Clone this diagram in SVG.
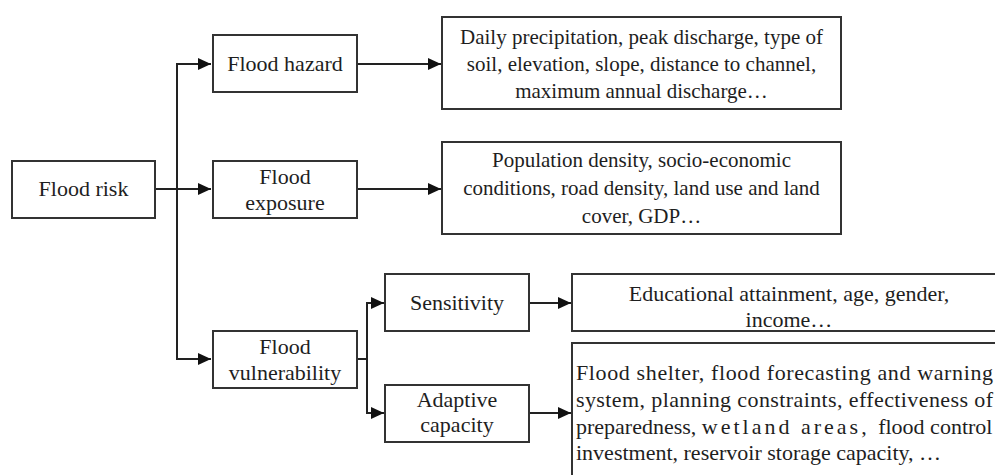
<svg xmlns="http://www.w3.org/2000/svg" width="995" height="475" viewBox="0 0 995 475">
<style>
.box{fill:#fff;stroke:#333;stroke-width:2}
text{font-family:'Liberation Serif','Times New Roman',Times,'DejaVu Serif',serif;fill:#1e1e1e}
.t{font-size:22px;text-anchor:middle}
.d{font-size:21px;text-anchor:middle}
.l{font-size:22px}
.c{fill:none;stroke:#222;stroke-width:2}
</style>
<defs>
<marker id="ah" markerUnits="userSpaceOnUse" markerWidth="14" markerHeight="14" viewBox="0 0 14 14" refX="13" refY="7" orient="auto">
<path d="M0,1 L13,7 L0,13 Z" fill="#111"/>
</marker>
</defs>
<rect width="995" height="475" fill="#fff"/>
<g id="connectors">
<path class="c" d="M155,189 H211" marker-end="url(#ah)"/>
<path class="c" d="M211,64 H177 V359 H211" marker-end="url(#ah)"/>
<path class="c" d="M177,64 H211" marker-end="url(#ah)"/>
<path class="c" d="M357,64 H441" marker-end="url(#ah)"/>
<path class="c" d="M357,189 H441" marker-end="url(#ah)"/>
<path class="c" d="M357,359 H367"/>
<path class="c" d="M384,303 H367 V413 H384" marker-end="url(#ah)"/>
<path class="c" d="M367,303 H384" marker-end="url(#ah)"/>
<path class="c" d="M529,303 H571" marker-end="url(#ah)"/>
<path class="c" d="M529,413 H571" marker-end="url(#ah)"/>
</g>
<g id="flood-risk" font-family="Liberation Serif, serif">
<rect class="box" x="12" y="161" width="143" height="57"/>
<text class="t" x="83.5" y="196">Flood risk</text>
</g>
<g id="flood-hazard">
<rect class="box" x="213" y="35" width="144" height="57"/>
<text class="t" x="285" y="71">Flood hazard</text>
</g>
<g id="flood-exposure">
<rect class="box" x="213" y="161" width="144" height="57"/>
<text class="t" x="285" y="184">Flood</text>
<text class="t" x="285" y="210">exposure</text>
</g>
<g id="flood-vulnerability">
<rect class="box" x="213" y="331" width="144" height="57"/>
<text class="t" x="285" y="354">Flood</text>
<text class="t" x="285" y="380">vulnerability</text>
</g>
<g id="hazard-details">
<rect class="box" x="442" y="17" width="399" height="92"/>
<text class="d" x="641.5" y="44">Daily precipitation, peak discharge,  type of</text>
<text class="d" x="641.5" y="71">soil, elevation, slope, distance to channel,</text>
<text class="d" x="641.5" y="98">maximum annual discharge…</text>
</g>
<g id="exposure-details">
<rect class="box" x="442" y="142" width="399" height="92"/>
<text class="d" x="641.5" y="167">Population density, socio-economic</text>
<text class="d" x="641.5" y="195">conditions, road density, land use and land</text>
<text class="d" x="641.5" y="223">cover, GDP…</text>
</g>
<g id="sensitivity">
<rect class="box" x="385" y="274" width="144" height="57"/>
<text class="t" x="457" y="310">Sensitivity</text>
</g>
<g id="adaptive-capacity">
<rect class="box" x="385" y="385" width="144" height="57"/>
<text class="t" x="457" y="407">Adaptive</text>
<text class="t" x="457" y="432">capacity</text>
</g>
<g id="sensitivity-details">
<rect class="box" x="572" y="274" width="434" height="57"/>
<text class="t" x="789" y="301">Educational attainment, age, gender,</text>
<text class="t" x="789" y="327">income…</text>
</g>
<g id="adaptive-details">
<rect class="box" x="572" y="343" width="434" height="150"/>
<text class="l" x="576" y="380" textLength="417" lengthAdjust="spacing">Flood shelter,  flood forecasting and warning</text>
<text class="l" x="576" y="407" textLength="417" lengthAdjust="spacing">system, planning constraints, effectiveness of</text>
<text class="l" x="576" y="434">preparedness, <tspan letter-spacing="3">wetland areas, </tspan>flood control</text>
<text class="l" x="576" y="460">investment,  reservoir storage capacity, …</text>
</g>
</svg>
